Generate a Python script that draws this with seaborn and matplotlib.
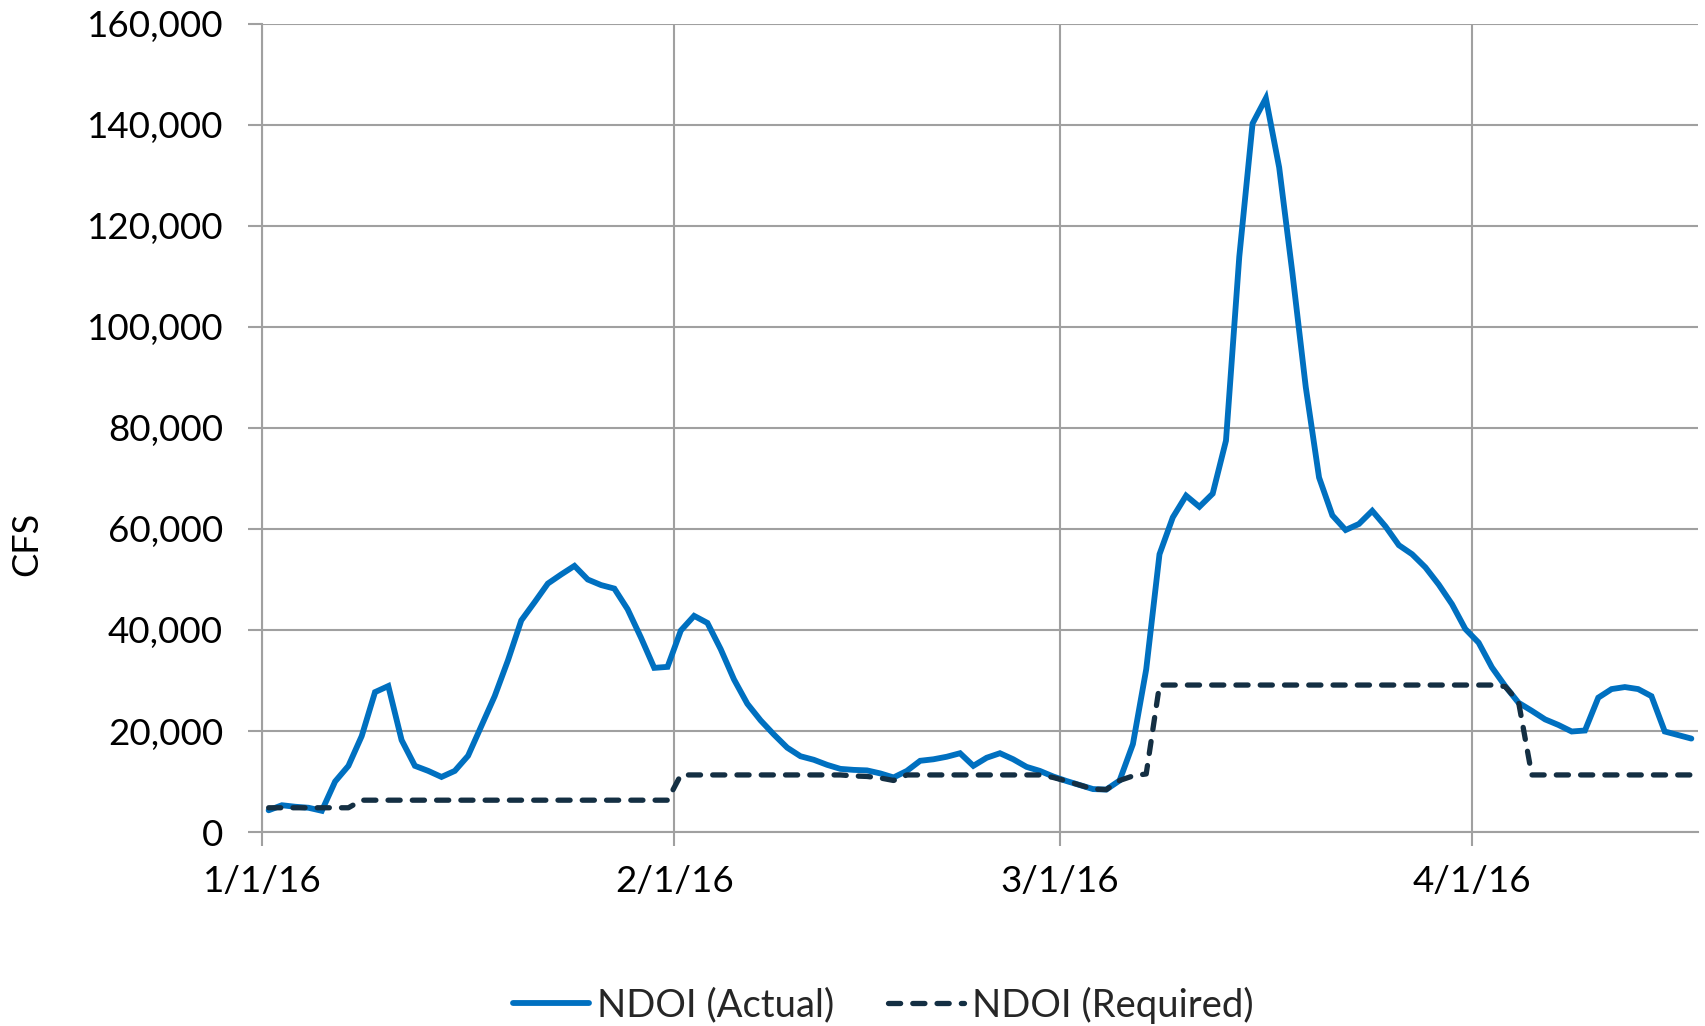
import matplotlib
matplotlib.use("Agg")
import matplotlib.pyplot as plt
import matplotlib.ticker as mticker
import pandas as pd
import seaborn as sns

# ---------------- data ----------------
start_date = "2016-01-01"
end_date = "2016-04-18"
series_names = ["NDOI (Actual)", "NDOI (Required)"]

actual_cfs = [
    4300, 5300, 5000, 4800, 4200, 10000, 13100, 19000, 27700, 28900,
    18200, 13100, 12100, 10900, 12100, 15100, 21000, 26900, 34000, 41900,
    45500, 49200, 51000, 52700, 50000, 48900, 48200, 44100, 38500, 32500,
    32700, 39900, 42800, 41400, 36200, 30200, 25400, 22100, 19300, 16700,
    15000, 14300, 13300, 12500, 12300, 12200, 11600, 10800, 12100, 14100,
    14400, 14900, 15600, 13100, 14700, 15600, 14400, 12900, 12100, 11000,
    10100, 9300, 8500, 8400, 10200, 17400, 32200, 55000, 62300, 66600,
    64400, 67000, 77500, 113900, 140300, 145300, 131600, 110600, 88100, 70200,
    62700, 59800, 61000, 63600, 60500, 56800, 55000, 52400, 49000, 45100,
    40200, 37500, 32600, 28900, 25600, 24000, 22300, 21200, 19900, 20100,
    26600, 28300, 28700, 28300, 26900, 19900, 19200, 18500,
]

required_cfs = [
    4800, 4800, 4800, 4800, 4800, 4800, 4800, 6300, 6300, 6300,
    6300, 6300, 6300, 6300, 6300, 6300, 6300, 6300, 6300, 6300,
    6300, 6300, 6300, 6300, 6300, 6300, 6300, 6300, 6300, 6300,
    6300, 11300, 11300, 11300, 11300, 11300, 11300, 11300, 11300, 11300,
    11300, 11300, 11300, 11300, 11100, 11000, 10700, 10200, 11300, 11300,
    11300, 11300, 11300, 11300, 11300, 11300, 11300, 11300, 11300, 10800,
    10100, 9300, 8500, 8400, 10200, 11100, 11500, 29100, 29100, 29100,
    29100, 29100, 29100, 29100, 29100, 29100, 29100, 29100, 29100, 29100,
    29100, 29100, 29100, 29100, 29100, 29100, 29100, 29100, 29100, 29100,
    29100, 29100, 29100, 28800, 25800, 11300, 11300, 11300, 11300, 11300,
    11300, 11300, 11300, 11300, 11300, 11300, 11300, 11300,
]

tick_dates = ["2016-01-01", "2016-02-01", "2016-03-01", "2016-04-01"]
tick_labels = ["1/1/16", "2/1/16", "3/1/16", "4/1/16"]
y_ticks = [0, 20000, 40000, 60000, 80000, 100000, 120000, 140000, 160000]
y_label = "CFS"

# ---------------- styling ----------------
sns.set_theme(style="white")
plt.rcParams["font.family"] = ["Lato", "DejaVu Sans"]

blue = "#0070C0"
navy = "#142F43"
grid_col = "#A0A0A0"

dates = pd.date_range(start_date, periods=len(actual_cfs), freq="D") + pd.Timedelta(hours=12)
df = pd.DataFrame({"date": dates, "actual": actual_cfs, "required": required_cfs})

fig = plt.figure(figsize=(17.05, 10.26), dpi=100)
ax = fig.add_axes([262 / 1705, 1 - 832 / 1026, (1698 - 262) / 1705, (832 - 24) / 1026])

sns.lineplot(data=df, x="date", y="actual", ax=ax, color=blue, linewidth=4.2,
             label=series_names[0], solid_joinstyle="miter", solid_capstyle="round")
sns.lineplot(data=df, x="date", y="required", ax=ax, color=navy, linewidth=3.8,
             linestyle=(0, (2.3, 2.3)), dash_capstyle="round", label=series_names[1])

ax.set_xlim(pd.Timestamp(start_date), pd.Timestamp(end_date))
ax.set_ylim(y_ticks[0], y_ticks[-1])
ax.set_xticks(pd.to_datetime(tick_dates))
ax.set_xticklabels(tick_labels)
ax.set_yticks(y_ticks)
ax.yaxis.set_major_formatter(mticker.FuncFormatter(lambda v, p: f"{int(v):,}"))

ax.grid(True, color=grid_col, linewidth=1.5)
ax.set_axisbelow(True)
for s in ["top", "right"]:
    ax.spines[s].set_visible(False)
for s in ["left", "bottom"]:
    ax.spines[s].set_color(grid_col)
    ax.spines[s].set_linewidth(1.5)

ax.tick_params(axis="both", which="major", length=10, width=1.5, color=grid_col,
               labelsize=26.5, labelcolor="black", bottom=True, left=True)
ax.tick_params(axis="y", pad=18)
ax.tick_params(axis="x", pad=14)

ax.set_xlabel("")
ax.set_ylabel(y_label, fontsize=26, color="black")
ax.yaxis.label.set_verticalalignment("center")
ax.yaxis.set_label_coords(-0.1636, 0.356)

ax.legend(loc="center", bbox_to_anchor=(0.518, 0.0205), bbox_transform=fig.transFigure,
          ncol=2, frameon=False, fontsize=27.5, handlelength=2.0, handletextpad=0.2,
          columnspacing=1.4, borderaxespad=0, borderpad=0)

fig.savefig("out.png", dpi=100)
